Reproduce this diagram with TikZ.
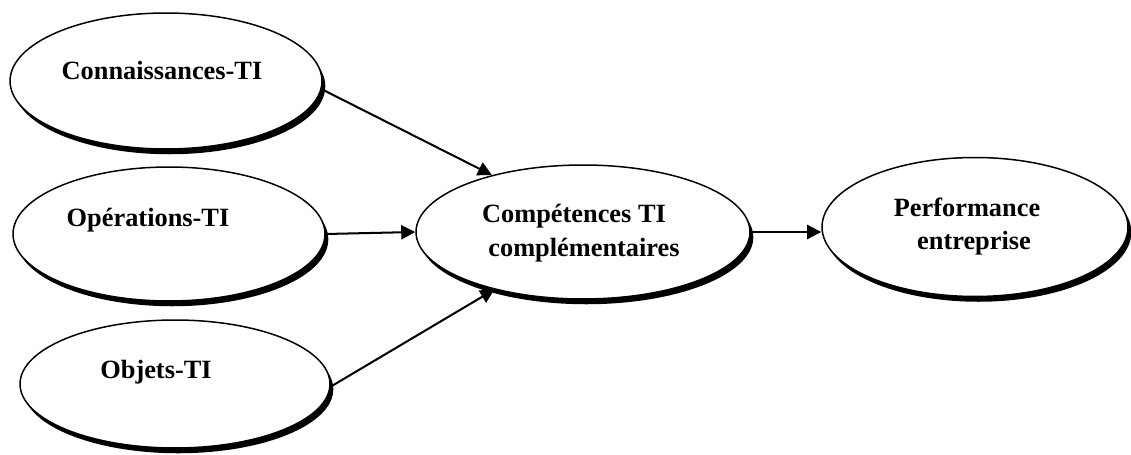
\documentclass[tikz,border=0pt]{standalone}
\usepackage{fontspec}
\setmainfont{Liberation Serif}
\usetikzlibrary{shapes.geometric,shadows,arrows.meta}

\begin{document}
\begin{tikzpicture}[
    x=0.02cm, y=-0.02cm,
    oval/.style={ellipse, draw, line width=0.85pt, fill=white, inner sep=0pt,
      general shadow={fill=black, shadow xshift=1.9pt, shadow yshift=-3pt}},
    label/.style={anchor=base, inner sep=0pt, font=\fontsize{15}{18}\selectfont\bfseries},
    link/.style={line width=1.15pt, -{Triangle[length=8pt, width=8pt]}}
  ]
  \useasboundingbox (0,0) rectangle (1131,455);

  % ovals
  \node[oval, minimum width=6.24cm, minimum height=2.72cm] (know) at (166,81) {};
  \node[oval, minimum width=6.24cm, minimum height=2.68cm] (ops)  at (169,234) {};
  \node[oval, minimum width=6.20cm, minimum height=2.56cm] (obj)  at (175,384) {};
  \node[oval, minimum width=6.68cm, minimum height=2.68cm] (comp) at (583,232) {};
  \node[oval, minimum width=6.12cm, minimum height=2.78cm] (perf) at (975,227) {};

  % labels
  \node[label] (tknow) at (162,80)  {Connaissances-TI};
  \node[label] (tops)  at (148,227) {Opérations-TI};
  \node[label] (tobj)  at (156,378) {Objets-TI};
  \node[label] (tcomp1) at (574,223) {Compétences TI};
  \node[label] (tcomp2) at (584,257) {complémentaires};
  \node[label] (tperf1) at (967,217) {Performance};
  \node[label] (tperf2) at (974,250) {entreprise};

  % connectors
  \draw[link] (know.-3) -- (comp.148);
  \draw[link] (ops.east) -- (comp.west);
  \draw[link] (obj.-1) -- (comp.213);
  \draw[link] (comp.east) -- (comp.east -| perf.west);
\end{tikzpicture}
\end{document}
